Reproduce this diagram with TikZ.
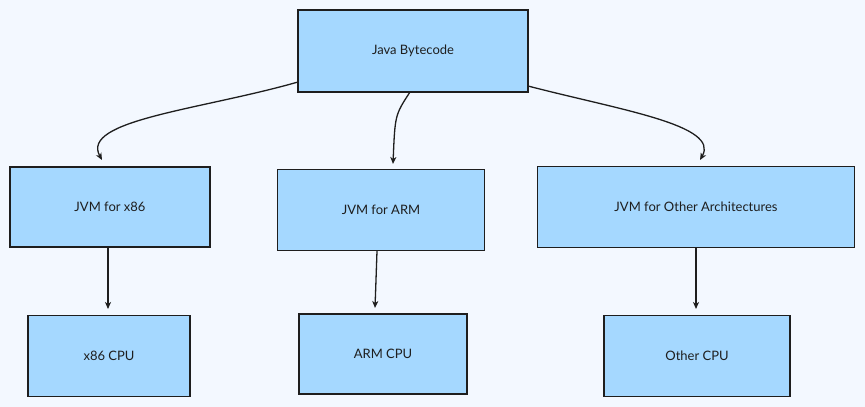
\documentclass[tikz,border=0pt]{standalone}
\usepackage{fontspec}
\setmainfont{Lato}
\usetikzlibrary{arrows.meta}
\definecolor{bg}{HTML}{F3F8FF}
\definecolor{boxfill}{HTML}{A5D8FF}
\definecolor{ink}{HTML}{1E1E1E}
\begin{document}
\begin{tikzpicture}[x=1pt,y=-1pt,
  box/.style={draw=ink,fill=boxfill,line width=1.1pt,inner sep=0pt,font=\fontsize{13}{15}\selectfont,text=ink},
  arr/.style={draw=ink,line width=1.3pt,-{Stealth[length=7pt,width=6pt,inset=2pt]}}]
\fill[bg] (0,0) rectangle (865,407);
\useasboundingbox (0,0) rectangle (865,407);
\node[box,minimum width=230pt,minimum height=82pt] (jb) at (413,51) {Java Bytecode};
\node[box,minimum width=200pt,minimum height=80pt] (j1) at (110,207) {JVM for x86};
\node[box,minimum width=207pt,minimum height=81pt] (j2) at (381,210) {JVM for ARM};
\node[box,minimum width=317pt,minimum height=81pt] (j3) at (696,207) {JVM for Other Architectures};
\node[box,minimum width=162pt,minimum height=81pt] (c1) at (109,356) {x86 CPU};
\node[box,minimum width=168pt,minimum height=80pt] (c2) at (383,354) {ARM CPU};
\node[box,minimum width=186pt,minimum height=81pt] (c3) at (697,356) {Other CPU};
\coordinate (a1) at (298,82);
\coordinate (a2) at (410,92);
\coordinate (a3) at (528,86);
\coordinate (t1) at (102,160);
\coordinate (t2) at (393,164);
\coordinate (t3) at (700,160);
\draw[arr] (a1) .. controls (200,110) and (80,120) .. (t1);
\draw[arr] (a2) .. controls (395,115) .. (t2);
\draw[arr] (a3) .. controls (620,110) and (720,125) .. (t3);
\draw[arr] (j1.south -| 108,0) -- (108,309);
\draw[arr] (377,251) .. controls (376,280) .. (375,308);
\draw[arr] (j3.south -| 696,0) -- (696,309);
\end{tikzpicture}
\end{document}
